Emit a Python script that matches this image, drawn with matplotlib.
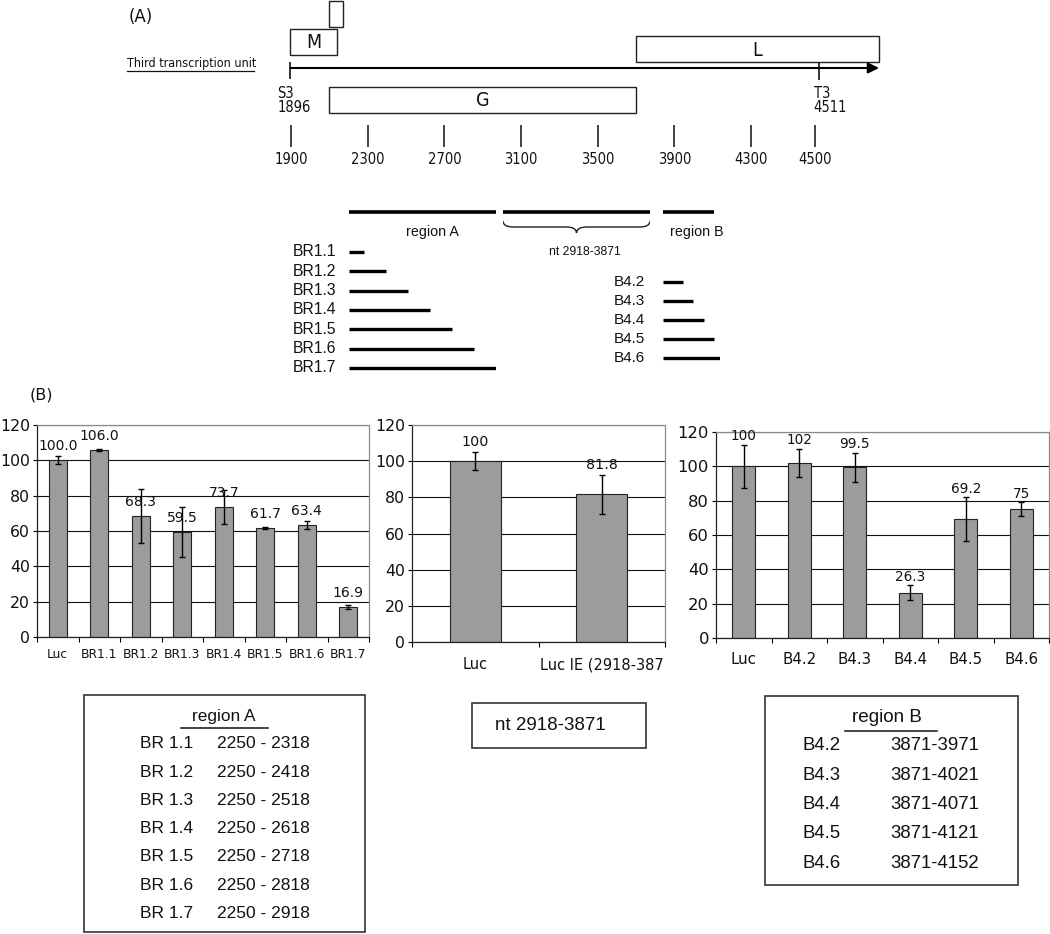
import numpy as np
import matplotlib
matplotlib.use('Agg')
import matplotlib.pyplot as plt
from matplotlib.patches import Rectangle, PathPatch
from matplotlib.path import Path

W, H = 1050, 934

# ---------------- data ----------------
# Panel A: genome map of the third transcription unit (nt)
map_ticks = [1900, 2300, 2700, 3100, 3500, 3900, 4300, 4500]
s3_pos, t3_pos = 1896, 4511
gene_names = ['M', '', 'G', 'L']
gene_starts = [1896, 2098, 2098, 3700]
gene_ends = [2140, 2171, 3700, 4700]
arrow_end = 4700

regionA_span = (2250, 2918)
middle_span = (2918, 3871)
regionB_span = (3871, 4121)

br_names = ['BR1.1', 'BR1.2', 'BR1.3', 'BR1.4', 'BR1.5', 'BR1.6', 'BR1.7']
br_starts = [2250, 2250, 2250, 2250, 2250, 2250, 2250]
br_ends = [2318, 2418, 2518, 2618, 2718, 2818, 2918]
b4_names = ['B4.2', 'B4.3', 'B4.4', 'B4.5', 'B4.6']
b4_starts = [3871, 3871, 3871, 3871, 3871]
b4_ends = [3971, 4021, 4071, 4121, 4152]

# Panel B: relative luciferase activity
c1_labels = ['Luc', 'BR1.1', 'BR1.2', 'BR1.3', 'BR1.4', 'BR1.5', 'BR1.6', 'BR1.7']
c1_values = [100.0, 106.0, 68.3, 59.5, 73.7, 61.7, 63.4, 16.9]
c1_errors = [2.3, 0.5, 15.2, 14.0, 9.6, 0.4, 2.0, 1.2]

c2_labels = ['Luc', 'Luc IE (2918-387']
c2_values = [100, 81.8]
c2_errors = [5.0, 10.8]

c3_labels = ['Luc', 'B4.2', 'B4.3', 'B4.4', 'B4.5', 'B4.6']
c3_values = [100, 102, 99.5, 26.3, 69.2, 75]
c3_errors = [12.7, 8.3, 8.4, 4.4, 12.8, 4.1]

tableA_names = ['BR 1.1', 'BR 1.2', 'BR 1.3', 'BR 1.4', 'BR 1.5', 'BR 1.6', 'BR 1.7']
tableA_ranges = ['2250 - 2318', '2250 - 2418', '2250 - 2518', '2250 - 2618',
                 '2250 - 2718', '2250 - 2818', '2250 - 2918']
tableB_names = ['B4.2', 'B4.3', 'B4.4', 'B4.5', 'B4.6']
tableB_ranges = ['3871-3971', '3871-4021', '3871-4071', '3871-4121', '3871-4152']

# ---------------- styles ----------------
COND = dict(family='DejaVu Sans', stretch='condensed')
ARIAL = dict(family='Liberation Sans')
INK = '#111111'
BAR_COLOR = '#9c9c9c'

fig = plt.figure(figsize=(W / 100, H / 100), dpi=100)


def px_axes(x0, y0, x1, y1):
    ax = fig.add_axes([x0 / W, 1 - y1 / H, (x1 - x0) / W, (y1 - y0) / H])
    return ax


def overlay(x0, x1, xlim):
    ax = px_axes(x0, 0, x1, H)
    ax.set_xlim(*xlim)
    ax.set_ylim(H, 0)
    ax.axis('off')
    return ax


# base pixel canvas
base = px_axes(0, 0, W, H)
base.set_xlim(0, W)
base.set_ylim(H, 0)
base.axis('off')

# ---------------- Panel A: genome map ----------------
MAP_KNEE, MAP_STRETCH = 4300, 1.67


def fwd(x):
    x = np.asarray(x, dtype=float)
    return np.where(x <= MAP_KNEE, x, MAP_KNEE + (x - MAP_KNEE) * MAP_STRETCH)


def inv(y):
    y = np.asarray(y, dtype=float)
    return np.where(y <= MAP_KNEE, y, MAP_KNEE + (y - MAP_KNEE) / MAP_STRETCH)


mp = px_axes(291, 0, 815, H)
mp.set_xscale('function', functions=(fwd, inv))
mp.set_xlim(map_ticks[0], map_ticks[-1])
mp.set_ylim(H, 0)
mp.axis('off')

base.text(129, 17, '(A)', fontsize=12, va='center', ha='left', color=INK)
base.text(127, 64, 'Third transcription unit', fontsize=9, va='center', ha='left', color=INK, **COND)
base.plot([127, 254], [71, 71], color=INK, lw=0.9)

gene_rows = [(29, 26), (1, 26), (87, 26), (36, 26)]
for name, s, e, (ytop, hgt) in zip(gene_names, gene_starts, gene_ends, gene_rows):
    mp.add_patch(Rectangle((s, ytop), e - s, hgt, facecolor='white', edgecolor='#222222',
                           lw=1.0, clip_on=False, zorder=3))
    if name:
        xc = float(inv((fwd(s) + fwd(e)) / 2))
        mp.text(xc, ytop + hgt / 2 + 1, name, ha='center', va='center', fontsize=14,
                color=INK, zorder=4, **COND)

mp.annotate('', xy=(arrow_end, 68), xytext=(s3_pos, 68),
            arrowprops=dict(arrowstyle='-|>', lw=1.5, color='black', mutation_scale=16,
                            shrinkA=0, shrinkB=0), annotation_clip=False)
mp.vlines([s3_pos], 62, 79, color=INK, lw=1.2, clip_on=False)
mp.vlines([t3_pos], 62, 80, color=INK, lw=1.2, clip_on=False, zorder=5)
for pos, name, dx in [(s3_pos, 'S3', -13), (t3_pos, 'T3', -5)]:
    mp.annotate(name, (pos, 93), xytext=(dx * 0.72, 0), textcoords='offset points',
                ha='left', va='center', fontsize=10.5, color=INK, annotation_clip=False, **COND)
    mp.annotate(str(pos), (pos, 107), xytext=(dx * 0.72, 0), textcoords='offset points',
                ha='left', va='center', fontsize=10.5, color=INK, annotation_clip=False, **COND)

mp.vlines(map_ticks, 125, 147, color=INK, lw=1.1, clip_on=False)
for t in map_ticks:
    mp.text(t, 160, str(t), ha='center', va='center', fontsize=10.5, color=INK,
            clip_on=False, **COND)

# ---------------- Panel A: constructs ----------------
axA = overlay(349, 496, regionA_span)
axA.hlines(212, *regionA_span, color='black', lw=2.6)
for i, (nm, s, e) in enumerate(zip(br_names, br_starts, br_ends)):
    y = 252 + 19.3 * i
    axA.hlines(y, s, e, color='black', lw=2.4)
    axA.annotate(nm, (s, y), xytext=(-9, 0), textcoords='offset points', ha='right',
                 va='center', fontsize=11.3, color=INK, annotation_clip=False, **ARIAL)
base.text(432, 232, 'region A', ha='center', va='center', fontsize=10.3, color=INK, **ARIAL)

axN = overlay(503, 650, middle_span)
axN.hlines(212, *middle_span, color='black', lw=2.6)
x0, x1 = middle_span
xm = (x0 + x1) / 2
q = (x1 - x0) * 0.07
y0, h = 221, 12
verts = [(x0, y0), (x0, y0 + h / 2), (x0 + q, y0 + h / 2), (xm - q, y0 + h / 2),
         (xm, y0 + h / 2), (xm, y0 + h), (xm, y0 + h / 2), (xm + q, y0 + h / 2),
         (x1 - q, y0 + h / 2), (x1, y0 + h / 2), (x1, y0)]
codes = [Path.MOVETO, Path.CURVE3, Path.CURVE3, Path.LINETO, Path.CURVE3, Path.CURVE3,
         Path.CURVE3, Path.CURVE3, Path.LINETO, Path.CURVE3, Path.CURVE3]
axN.add_patch(PathPatch(Path(verts, codes), facecolor='none', edgecolor='#222222', lw=1.0))
base.text(585, 252, 'nt 2918-3871', ha='center', va='center', fontsize=8.8, color=INK, **ARIAL)

axB = overlay(663, 720, (b4_starts[0], max(b4_ends)))
axB.hlines(212, *regionB_span, color='black', lw=2.6)
for i, (nm, s, e) in enumerate(zip(b4_names, b4_starts, b4_ends)):
    y = 282 + 19 * i
    axB.hlines(y, s, e, color='black', lw=2.4)
    axB.annotate(nm, (s, y), xytext=(-13, 0), textcoords='offset points', ha='right',
                 va='center', fontsize=11, color=INK, annotation_clip=False, **ARIAL)
base.text(697, 232, 'region B', ha='center', va='center', fontsize=10.3, color=INK, **ARIAL)

# ---------------- Panel B: bar charts ----------------
base.text(30, 395, '(B)', fontsize=11.5, va='center', ha='left', color=INK)


def bar_chart(box, labels, values, errors, texts, width, ytick_fs, xtick_fs, xpad,
              label_from_err, label_off, val_fs):
    ax = px_axes(*box)
    x = np.arange(len(values))
    ax.bar(x, values, width=width, color=BAR_COLOR, edgecolor='#222222', linewidth=0.8, zorder=2)
    ax.errorbar(x, values, yerr=errors, fmt='none', ecolor='black', elinewidth=1.0,
                capsize=2.2, capthick=1.0, zorder=3)
    ax.set_xlim(-0.5, len(values) - 0.5)
    ax.set_ylim(0, 120)
    ax.set_yticks(range(0, 121, 20))
    ax.set_axisbelow(True)
    ax.yaxis.grid(True, color='#111111', lw=0.8)
    ax.set_xticks(np.arange(len(values) + 1) - 0.5)
    ax.set_xticklabels([])
    ax.set_xticks(x, minor=True)
    ax.set_xticklabels(labels, minor=True, fontsize=xtick_fs, color=INK)
    ax.tick_params(axis='x', which='minor', length=0, pad=xpad)
    ax.tick_params(axis='x', which='major', length=3.5, width=0.8, direction='out')
    ax.tick_params(axis='y', length=3, width=0.8, labelsize=ytick_fs, pad=2, labelcolor=INK)
    for sp in ['left', 'bottom']:
        ax.spines[sp].set_color('#222222')
        ax.spines[sp].set_linewidth(0.9)
    for sp in ['top', 'right']:
        ax.spines[sp].set_color('#8c8c8c')
        ax.spines[sp].set_linewidth(0.9)
    for xi, v, e, t in zip(x, values, errors, texts):
        yy = v + e if label_from_err else v
        ax.annotate(t, (xi, yy), xytext=(0, label_off), textcoords='offset points',
                    ha='center', va='center', fontsize=val_fs, color=INK, annotation_clip=False)
    return ax


bar_chart((37, 425, 369, 637), c1_labels, c1_values, c1_errors,
          ['{:.1f}'.format(v) for v in c1_values], 0.43, 11.3, 8.8, 8, False, 10, 10)
bar_chart((412, 425, 665, 642), c2_labels, c2_values, c2_errors,
          ['{:g}'.format(v) for v in c2_values], 0.40, 11.3, 10.5, 11, True, 7, 10.3)
bar_chart((716, 432, 1049, 638), c3_labels, c3_values, c3_errors,
          ['{:g}'.format(v) for v in c3_values], 0.41, 11.8, 10.8, 10, True, 6, 9.8)

# ---------------- tables ----------------
base.add_patch(Rectangle((84, 695), 365 - 84, 932 - 695, facecolor='none',
                         edgecolor='#333333', lw=1.2))
base.text(224, 717, 'region A', ha='center', va='center', fontsize=12.4, color=INK, **ARIAL)
base.plot([181, 268], [728, 728], color=INK, lw=1.1)
for i, (nm, rg) in enumerate(zip(tableA_names, tableA_ranges)):
    y = 744 + 28.2 * i
    base.text(140, y, nm, ha='left', va='center', fontsize=12.5, color=INK, **ARIAL)
    base.text(217, y, rg, ha='left', va='center', fontsize=12.5, color=INK, **ARIAL)

base.add_patch(Rectangle((472, 703), 174, 45, facecolor='none', edgecolor='#333333', lw=1.2))
base.text(495, 726, 'nt 2918-3871', ha='left', va='center', fontsize=13.5, color=INK, **ARIAL)

base.add_patch(Rectangle((765, 696), 253, 189, facecolor='none', edgecolor='#333333', lw=1.2))
base.text(887, 717, 'region B', ha='center', va='center', fontsize=13.6, color=INK, **ARIAL)
base.plot([845, 937], [731, 731], color=INK, lw=1.1)
for i, (nm, rg) in enumerate(zip(tableB_names, tableB_ranges)):
    y = 746 + 29.3 * i
    base.text(802, y, nm, ha='left', va='center', fontsize=13.4, color=INK, **ARIAL)
    base.text(890, y, rg, ha='left', va='center', fontsize=13.4, color=INK, **ARIAL)

fig.savefig('out.png', dpi=100)
